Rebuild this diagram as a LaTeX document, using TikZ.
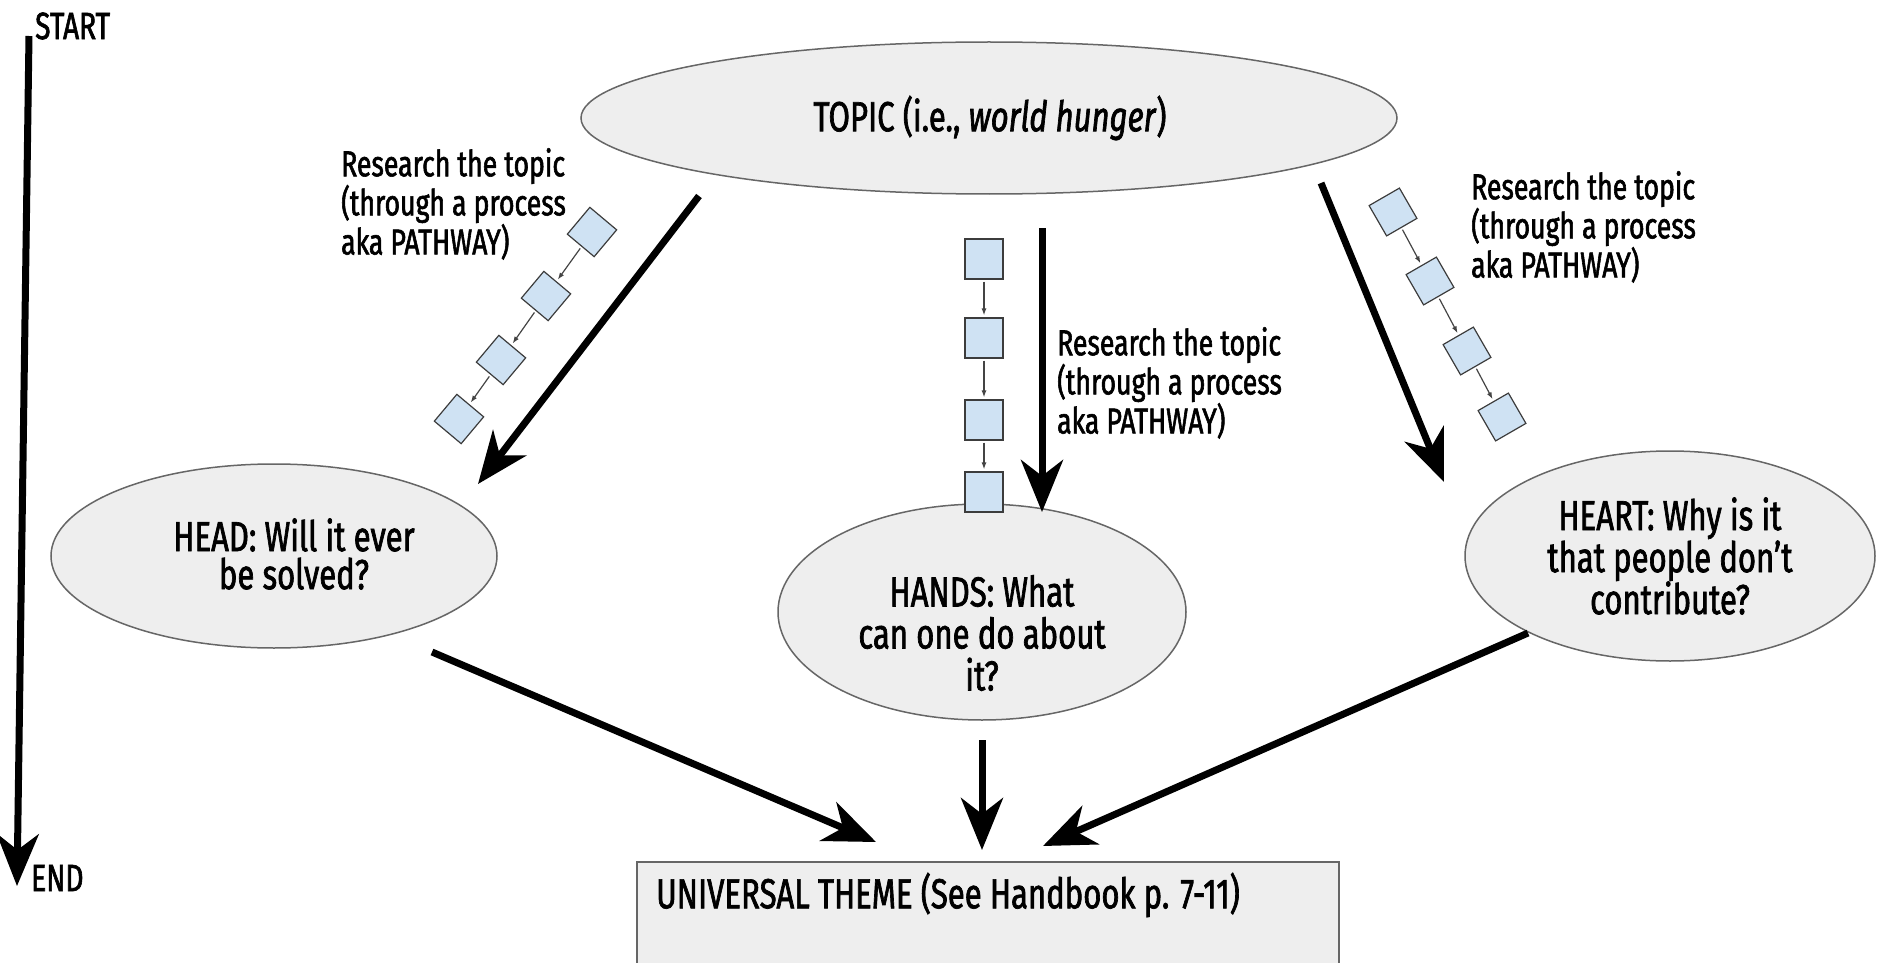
\documentclass[tikz,border=0pt]{standalone}
\usepackage{fontspec}
\setmainfont{Fira Sans}[FakeStretch=0.74, FakeBold=1.6]
\usetikzlibrary{arrows.meta,shapes.geometric}
\definecolor{ellfill}{HTML}{EEEEEE}
\definecolor{ellline}{HTML}{666666}
\definecolor{sqfill}{HTML}{CFE2F3}
\definecolor{sqline}{HTML}{3C3C3C}
\definecolor{smallarr}{HTML}{444444}
\begin{document}
\begin{tikzpicture}[x=1pt,y=-1pt,
 ell/.style={ellipse, draw=ellline, fill=ellfill, line width=1.5pt, inner sep=0pt},
 bigarrow/.style={line width=7pt, -{Stealth[length=52pt,width=42pt,inset=16pt]}},
 sqbox/.style={draw=sqline, fill=sqfill, line width=1.2pt, minimum size=35pt, inner sep=0pt},
 sarrow/.style={draw=smallarr, line width=1.2pt, -{Latex[length=7pt,width=5pt]}, shorten <=2pt, shorten >=2pt},
 rtext/.style={align=left, font=\fontsize{36}{36.5}\selectfont, anchor=north west, inner sep=0pt},
 etext/.style={align=center, font=\fontsize{42}{42}\selectfont, inner sep=0pt},
 ltext/.style={font=\fontsize{38}{40}\selectfont, anchor=west, inner sep=0pt},
]
\useasboundingbox (0,0) rectangle (1883,963);

% start/end timeline
\node[ltext] (start) at (35,26) {START};
\node[ltext] (end) at (31,878) {END};
\coordinate (tl-top) at (29,36);
\coordinate (tl-bot) at (17,886);
\draw[bigarrow] (tl-top) -- (tl-bot);

% main ellipses
\node[ell, minimum width=816pt, minimum height=152pt] (topic) at (989,118) {};
\node[etext] (topict) at (990,118) {TOPIC (i.e., \textit{world hunger})};

\node[ell, minimum width=446pt, minimum height=184pt] (head) at (274,556) {};
\node[etext, font=\fontsize{42}{38}\selectfont] (headt) at (294,554) {HEAD: Will it ever\\be solved?};

\node[ell, minimum width=408pt, minimum height=216pt] (hands) at (982,612) {};
\node[etext] (handst) at (982,633) {HANDS: What\\can one do about\\it?};

\node[ell, minimum width=410pt, minimum height=210pt] (heart) at (1670,556) {};
\node[etext] (heartt) at (1670,556) {HEART: Why is it\\that people don’t\\contribute?};

% universal theme box
\draw[draw=ellline, fill=ellfill, line width=1.5pt] (637,862) rectangle (1339,975);
\node[ltext, font=\fontsize{42}{44}\selectfont] (univ) at (656,895) {UNIVERSAL THEME (See Handbook p. 7-11)};

% research texts
\node[rtext] (rl) at (341,148) {Research the topic\\(through a process\\aka PATHWAY)};
\node[rtext] (rm) at (1057,327) {Research the topic\\(through a process\\aka PATHWAY)};
\node[rtext] (rr) at (1471,171) {Research the topic\\(through a process\\aka PATHWAY)};

% left chain
\node[sqbox, rotate=50] (l1) at (592,232) {};
\node[sqbox, rotate=50] (l2) at (546,296) {};
\node[sqbox, rotate=50] (l3) at (501,360) {};
\node[sqbox, rotate=50] (l4) at (459,419) {};
\draw[sarrow] (l1) -- (l2);
\draw[sarrow] (l2) -- (l3);
\draw[sarrow] (l3) -- (l4);

% middle chain
\node[sqbox, minimum width=38pt, minimum height=40pt] (m1) at (984,259) {};
\node[sqbox, minimum width=38pt, minimum height=40pt] (m2) at (984,338) {};
\node[sqbox, minimum width=38pt, minimum height=40pt] (m3) at (984,420) {};
\node[sqbox, minimum width=38pt, minimum height=40pt] (m4) at (984,492) {};
\draw[sarrow] (m1) -- (m2);
\draw[sarrow] (m2) -- (m3);
\draw[sarrow] (m3) -- (m4);

% right chain
\node[sqbox, rotate=30] (r1) at (1393,212) {};
\node[sqbox, rotate=30] (r2) at (1430,281) {};
\node[sqbox, rotate=30] (r3) at (1467,351) {};
\node[sqbox, rotate=30] (r4) at (1502,417) {};
\draw[sarrow] (r1) -- (r2);
\draw[sarrow] (r2) -- (r3);
\draw[sarrow] (r3) -- (r4);

% big arrows
\coordinate (th-s) at (699,196);  \coordinate (th-e) at (478,484);
\coordinate (tn-s) at (1042,228); \coordinate (tn-e) at (1042,512);
\coordinate (tr-s) at (1321,183); \coordinate (tr-e) at (1444,482);
\coordinate (hu-s) at (432,652);  \coordinate (hu-e) at (876,842);
\coordinate (nu-s) at (982,740);  \coordinate (nu-e) at (982,850);
\coordinate (ru-s) at (1528,633); \coordinate (ru-e) at (1043,846);
\draw[bigarrow] (th-s) -- (th-e);
\draw[bigarrow] (tn-s) -- (tn-e);
\draw[bigarrow] (tr-s) -- (tr-e);
\draw[bigarrow] (hu-s) -- (hu-e);
\draw[bigarrow] (nu-s) -- (nu-e);
\draw[bigarrow] (ru-s) -- (ru-e);
\end{tikzpicture}
\end{document}
